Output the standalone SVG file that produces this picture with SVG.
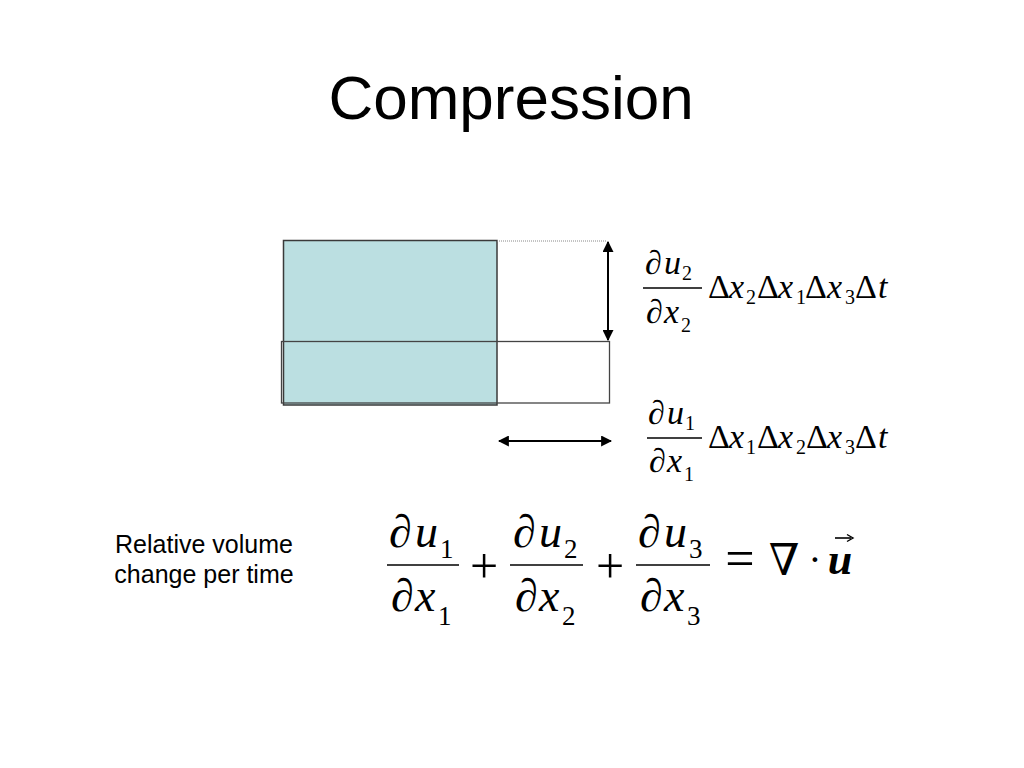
<svg xmlns="http://www.w3.org/2000/svg" width="1024" height="768" viewBox="0 0 1024 768">
<defs>
<style>
.sans{font-family:"Liberation Sans",Arial,sans-serif;fill:#000}
.m{font-family:"Liberation Serif","Times New Roman","DejaVu Serif",serif;fill:#000}
.i{font-style:italic}
.fl{stroke:#000;stroke-width:1.6}
.conn{stroke:#000;stroke-width:2;fill:none}
</style>
<marker id="ah" viewBox="0 0 10 10" refX="9" refY="5" markerWidth="5.5" markerHeight="5.5" orient="auto-start-reverse" markerUnits="strokeWidth">
<path d="M0,0 L10,5 L0,10 z" fill="#000"/>
</marker>
</defs>
<rect width="1024" height="768" fill="#fff"/>
<text id="title" class="sans" x="511" y="119" font-size="62" text-anchor="middle">Compression</text>

<g id="box-original">
<rect x="283.5" y="240.5" width="213.5" height="164.5" fill="#bbdfe1" stroke="#3a3a3a" stroke-width="1.5"/>
</g>
<g id="box-compressed">
<rect x="281.5" y="341.5" width="328" height="61.5" fill="none" stroke="#444" stroke-width="1.3"/>
</g>
<g id="connectors">
<line x1="497" y1="241" x2="607" y2="241" stroke="#888" stroke-width="1" stroke-dasharray="1,1"/>
<line class="conn" x1="608" y1="242" x2="608" y2="340" marker-start="url(#ah)" marker-end="url(#ah)"/>
<line class="conn" x1="499" y1="441" x2="611" y2="441" marker-start="url(#ah)" marker-end="url(#ah)"/>
</g>

<g id="eq-u2" class="m" font-size="34">
<text y="274"><tspan x="645">∂</tspan><tspan class="i" x="664">u</tspan><tspan font-size="20" x="682" dy="6">2</tspan></text>
<line class="fl" x1="643" y1="288" x2="702" y2="288"/>
<text y="323"><tspan x="646">∂</tspan><tspan class="i" x="664">x</tspan><tspan font-size="20" x="681" dy="9">2</tspan></text>
<text y="298"><tspan x="708">Δ</tspan><tspan class="i" x="729">x</tspan><tspan x="746" font-size="20" dy="6">2</tspan><tspan x="757" dy="-6">Δ</tspan><tspan class="i" x="778">x</tspan><tspan x="796" font-size="20" dy="6">1</tspan><tspan x="805" dy="-6">Δ</tspan><tspan class="i" x="827">x</tspan><tspan x="845" font-size="20" dy="6">3</tspan><tspan x="855" dy="-6">Δ</tspan><tspan class="i" x="878">t</tspan></text>
</g>

<g id="eq-u1" class="m" font-size="34">
<text y="424"><tspan x="648">∂</tspan><tspan class="i" x="667">u</tspan><tspan font-size="20" x="685" dy="6">1</tspan></text>
<line class="fl" x1="647" y1="438" x2="702" y2="438"/>
<text y="472"><tspan x="649">∂</tspan><tspan class="i" x="667">x</tspan><tspan font-size="20" x="684" dy="9">1</tspan></text>
<text y="448"><tspan x="708">Δ</tspan><tspan class="i" x="729">x</tspan><tspan x="746" font-size="20" dy="6">1</tspan><tspan x="757" dy="-6">Δ</tspan><tspan class="i" x="778">x</tspan><tspan x="796" font-size="20" dy="6">2</tspan><tspan x="806" dy="-6">Δ</tspan><tspan class="i" x="827">x</tspan><tspan x="845" font-size="20" dy="6">3</tspan><tspan x="855" dy="-6">Δ</tspan><tspan class="i" x="878">t</tspan></text>
</g>

<g id="label" class="sans" font-size="25" text-anchor="middle">
<text x="204" y="553">Relative volume</text>
<text x="204" y="583">change per time</text>
</g>

<g id="eq-div" class="m" font-size="46">
<text y="547"><tspan x="389">∂</tspan><tspan class="i" x="415">u</tspan><tspan font-size="27" x="440" dy="11">1</tspan></text>
<line class="fl" x1="387" y1="565" x2="459" y2="565"/>
<text y="611"><tspan x="391">∂</tspan><tspan class="i" x="415">x</tspan><tspan font-size="27" x="438" dy="14">1</tspan></text>
<text x="484" y="583" font-size="50" text-anchor="middle">+</text>
<text y="547"><tspan x="513">∂</tspan><tspan class="i" x="539">u</tspan><tspan font-size="27" x="564" dy="11">2</tspan></text>
<line class="fl" x1="510" y1="565" x2="583" y2="565"/>
<text y="611"><tspan x="515">∂</tspan><tspan class="i" x="539">x</tspan><tspan font-size="27" x="562" dy="14">2</tspan></text>
<text x="610" y="583" font-size="50" text-anchor="middle">+</text>
<text y="547"><tspan x="638">∂</tspan><tspan class="i" x="664">u</tspan><tspan font-size="27" x="689" dy="11">3</tspan></text>
<line class="fl" x1="636" y1="565" x2="710" y2="565"/>
<text y="611"><tspan x="640">∂</tspan><tspan class="i" x="664">x</tspan><tspan font-size="27" x="687" dy="14">3</tspan></text>
<text x="740" y="576" font-size="52" text-anchor="middle">=</text>
<text x="784" y="575" font-size="44" text-anchor="middle">∇</text>
<text x="815" y="573" font-size="40" text-anchor="middle">·</text>
<text x="840" y="574" font-size="44" font-weight="bold" font-style="italic" text-anchor="middle">u</text>
<path d="M835,538 H851" stroke="#000" stroke-width="1.6"/>
<path d="M847,534.5 L853,538 L847,541.5" fill="none" stroke="#000" stroke-width="1.4"/>
</g>
</svg>
